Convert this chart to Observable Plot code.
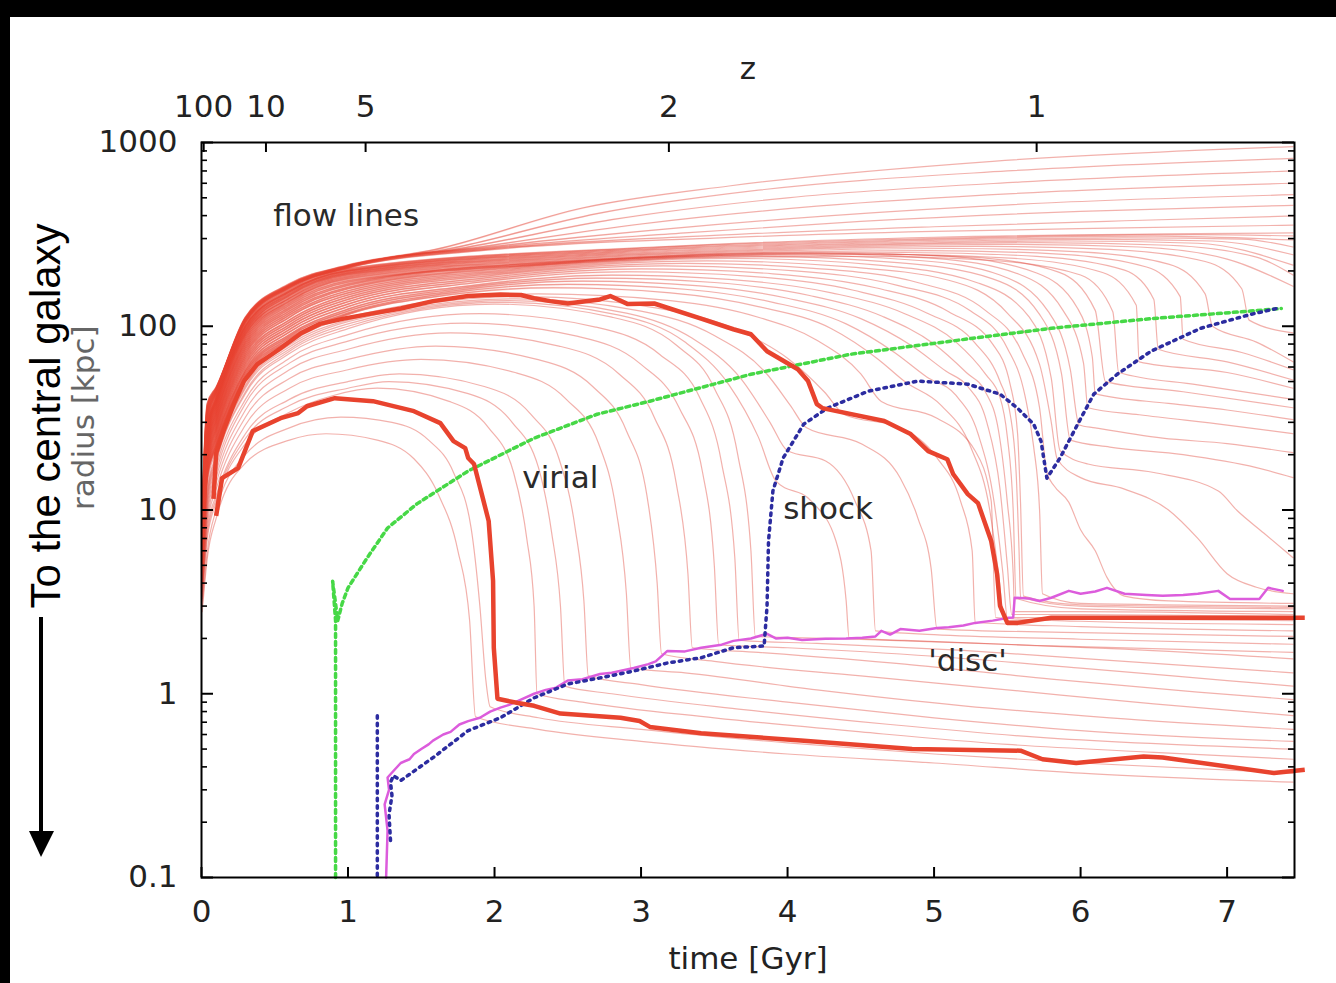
<!DOCTYPE html>
<html><head><meta charset="utf-8">
<script src="https://cdn.jsdelivr.net/npm/d3@7"></script>
<script src="https://cdn.jsdelivr.net/npm/@observablehq/plot@0.6"></script>
<style>
html,body{margin:0;padding:0;background:#000;width:1336px;height:983px;overflow:hidden;}
#panel{position:absolute;left:10px;top:17px;width:1326px;height:966px;background:#fff;}
#overlay{position:absolute;left:0;top:0;pointer-events:none;}
</style></head><body>
<div id="panel"></div>
<svg id="overlay" width="1336" height="983">
  <text transform="translate(60,416) rotate(-90)" text-anchor="middle" font-family="Liberation Sans, Arial, sans-serif" font-size="42" fill="#000">To the central galaxy</text>
  <line x1="41" y1="617" x2="41" y2="834" stroke="#000" stroke-width="4"/>
  <polygon points="29,831 54,831 41,857" fill="#000"/>
</svg>
<script>
// ---------- axis ticks / labels ----------
const timeTicks = [0, 1, 2, 3, 4, 5, 6, 7];
const radiusTicks = [0.1, 1, 10, 100, 1000];
const zLabels = ["100", "10", "5", "2", "1"];
const zTimes = [0.015, 0.44, 1.12, 3.19, 5.7];

// ---------- flow lines: flat [t, r, t, r, ...] (time Gyr, radius kpc) ----------
const innerFlow = [
  [0.005,2.8, 0.04,5.5, 0.1,9, 0.3,18, 0.6,24, 0.85,26, 1.2,24, 1.45,19, 1.62,12, 1.75,6, 1.83,2.5, 1.87,0.75, 2.3,0.64, 3,0.55, 4,0.47, 5,0.42, 6,0.37, 7.45,0.33],
  [0.005,3, 0.04,6, 0.1,10, 0.3,20, 0.6,28, 0.95,32, 1.3,30, 1.55,24, 1.72,16, 1.84,8, 1.9,3, 1.94,1.2, 1.97,0.85, 2.3,0.74, 3,0.64, 4,0.54, 5,0.47, 6,0.42, 7.45,0.37]
];
const discFlow = [
  [0.005,3.2, 0.04,7, 0.1,11, 0.3,23, 0.6,34, 0.9,42, 1.2,46, 1.69,39, 1.96,28, 2.13,16, 2.22,7, 2.27,3, 2.29,1.0, 2.6,0.9, 3.5,0.74, 4.5,0.62, 5.5,0.53, 6.5,0.48, 7.45,0.44],
  [0.005,3.3, 0.04,7.5, 0.1,11.5, 0.3,24.5, 0.6,37, 1.0,46, 1.28,50, 1.82,43, 2.12,30, 2.3,17, 2.39,7.5, 2.45,3, 2.48,1.1, 2.8,1.0, 3.7,0.82, 4.7,0.68, 5.7,0.58, 7.45,0.5],
  [0.005,3.4, 0.04,8, 0.1,12, 0.3,26, 0.6,40, 1.0,50, 1.35,55, 1.93,47, 2.25,33, 2.44,19, 2.55,8, 2.61,3.2, 2.64,1.25, 3,1.12, 4,0.9, 5,0.74, 6,0.63, 7.45,0.55],
  [0.005,3.5, 0.04,8.5, 0.1,13, 0.3,29, 0.6,46, 1.0,58, 1.5,66, 2.14,56, 2.49,40, 2.71,23, 2.83,10, 2.9,3.5, 2.93,1.38, 3.3,1.3, 4.2,1.05, 5.2,0.86, 6.2,0.74, 7.45,0.64],
  [0.005,3.6, 0.04,9, 0.1,14, 0.3,32, 0.6,52, 1.0,66, 1.6,78, 2.29,66, 2.67,47, 2.9,27, 3.04,12, 3.11,4, 3.14,1.65, 3.5,1.5, 4.5,1.25, 5.5,1.05, 6.5,0.88, 7.45,0.76],
  [0.005,3.7, 0.04,9.5, 0.1,15, 0.3,35, 0.6,58, 1.0,75, 1.7,92, 2.44,78, 2.85,55, 3.09,32, 3.24,14, 3.32,4.5, 3.35,1.78, 3.8,1.68, 4.8,1.45, 5.8,1.2, 6.8,1.02, 7.45,0.93],
  [0.005,3.8, 0.04,10, 0.1,16, 0.3,38, 0.6,63, 1.0,83, 1.8,104, 2.57,88, 3.0,62, 3.26,36, 3.42,16, 3.5,5, 3.53,1.85, 4,1.78, 5,1.6, 6,1.38, 7,1.18, 7.45,1.1],
  [0.005,3.9, 0.04,10.5, 0.1,17, 0.3,40, 0.6,67, 1.0,90, 1.9,117, 2.69,99, 3.13,70, 3.4,41, 3.55,18, 3.64,5.5, 3.67,1.95, 4.2,1.88, 5.2,1.72, 6.2,1.52, 7.45,1.3],
  [0.005,4, 0.04,11, 0.1,18, 0.3,43, 0.6,71, 1.0,97, 2.0,132, 2.8,112, 3.24,79, 3.5,46, 3.66,20, 3.75,6, 3.78,2.05, 4.3,2.0, 5.3,1.88, 6.3,1.75, 7.45,1.55]
];
const domeFlow = [
  [0.005,4.1, 0.04,11.5, 0.1,18.5, 0.3,44, 0.6,73, 1.0,100, 2.05,135, 2.85,115, 3.3,82, 3.6,48, 3.8,25, 3.92,14.4, 4.16,11.2, 4.33,6.8, 4.4,3.2, 4.42,2.02, 4.8,1.95, 5.8,1.82, 7.45,1.68],
  [0.005,4.2, 0.04,12, 0.1,19, 0.3,46, 0.6,75, 1.0,103, 2.1,138, 2.9,118, 3.35,86, 3.68,52, 3.88,30, 4.0,21, 4.26,18.5, 4.46,11.2, 4.57,6, 4.6,2.2, 5,2.1, 6,1.98, 7.45,1.86],
  [0.005,4.3, 0.04,12.5, 0.1,19.5, 0.3,47, 0.6,77, 1.0,106, 2.15,141, 3.0,121, 3.5,89, 3.85,56, 4.02,37, 4.13,28, 4.51,22.8, 4.77,14.9, 4.89,9, 4.98,4.8, 5.02,2.25, 6,2.15, 7.45,2.05],
  [0.005,4.4, 0.04,13, 0.1,20, 0.3,48, 0.6,79, 1.0,108, 2.2,145, 3.1,126, 3.65,96, 4.0,67, 4.25,44, 4.39,33, 4.77,28, 5.02,19.2, 5.18,11.2, 5.26,6, 5.28,2.45, 6,2.32, 7.45,2.2],
  [0.005,4.6, 0.04,14, 0.1,21, 0.3,50, 0.6,81, 1.0,112, 2.3,150, 3.2,138, 3.8,112, 4.2,84, 4.5,55, 4.64,39, 5.02,31.6, 5.28,21, 5.39,11.2, 5.42,2.6, 6,2.48, 7.45,2.38]
];
const haloFlow = [
  [0.005,4.8, 0.04,15, 0.1,22, 0.3,52, 0.6,84, 1.0,116, 1.6,145, 2.4,162, 3.2,152, 3.8,128, 4.3,97, 4.62,66, 4.8,50, 5.05,37, 5.25,22, 5.38,10, 5.44,4.5, 5.48,2.5, 6,2.55, 7.45,2.5],
  [0.005,4.9, 0.04,15.5, 0.1,22.5, 0.3,53.5, 0.6,86, 1.0,118, 1.65,150, 2.5,169, 3.3,159, 3.9,135, 4.4,103, 4.73,72, 4.95,53, 5.15,42, 5.3,26, 5.41,11, 5.47,4.5, 5.5,2.6, 6,2.6, 7.45,2.55],
  [0.005,5, 0.04,16, 0.1,23, 0.3,55, 0.6,88, 1.0,121, 1.7,155, 2.6,176, 3.4,166, 4.0,142, 4.5,110, 4.85,78, 5.08,57, 5.23,47, 5.36,30, 5.45,13, 5.5,5, 5.53,2.7, 6,2.7, 7.45,2.62],
  [0.005,5.1, 0.04,16.5, 0.1,23.8, 0.3,56.5, 0.6,90, 1.0,124, 1.75,160, 2.7,183, 3.5,173, 4.15,147, 4.65,113, 5.0,80, 5.22,56, 5.35,44, 5.44,27, 5.5,11, 5.54,4.5, 5.55,2.8, 6,2.8, 7.45,2.7],
  [0.005,5.2, 0.04,17, 0.1,24.5, 0.3,58, 0.6,93, 1.0,128, 1.8,165, 2.8,190, 3.6,180, 4.3,152, 4.8,117, 5.15,82, 5.35,55, 5.45,41, 5.5,25, 5.54,10, 5.56,3.3, 6,2.9, 7.45,2.8],
  [0.005,5.3, 0.04,17.5, 0.1,25.2, 0.3,60, 0.6,96, 1.0,132, 1.85,172, 2.9,198, 3.75,187, 4.45,157, 4.95,118, 5.28,81, 5.45,50, 5.52,33, 5.56,16, 5.58,6, 5.59,3.35, 6,3.0, 7.45,2.9],
  [0.005,5.4, 0.04,18, 0.1,26, 0.3,62, 0.6,99, 1.0,136, 1.9,178, 3.0,205, 3.9,193, 4.6,162, 5.1,120, 5.4,80, 5.52,48, 5.57,26, 5.59,11, 5.61,3.4, 6,3.05, 7.45,2.95],
  [0.005,5.5, 0.04,18.5, 0.1,26.8, 0.3,64, 0.6,102, 1.0,140, 1.95,184, 3.15,213, 4.05,200, 4.75,167, 5.25,121, 5.5,76, 5.62,42, 5.68,22, 5.72,10, 5.74,3.5, 6,3.1, 7.45,3.0],
  [0.005,5.6, 0.04,19, 0.1,27.5, 0.3,66, 0.6,105, 1.0,144, 2.0,190, 3.3,220, 4.2,206, 4.9,172, 5.35,122, 5.6,72, 5.72,36, 5.77,16, 5.82,13.5, 5.92,11, 6.0,7.8, 6.1,6, 6.18,4.3, 6.3,3.4, 6.6,3.2, 7.45,3.1],
  [0.005,5.7, 0.04,19.5, 0.1,28.2, 0.3,68, 0.6,108, 1.0,148, 2.05,195, 3.45,227, 4.4,211, 5.1,178, 5.5,118, 5.72,62, 5.8,30, 5.84,19, 6.0,15, 6.3,13, 6.6,10, 6.8,7, 7.0,4.5, 7.2,3.8, 7.45,3.5],
  [0.005,5.8, 0.04,20, 0.1,29, 0.3,70, 0.6,112, 1.0,152, 2.1,200, 3.6,234, 4.6,216, 5.3,172, 5.65,112, 5.8,52, 5.86,21, 6.05,17.8, 6.5,16, 6.94,12.7, 7.07,9.9, 7.25,7.5, 7.45,5.5],
  [0.005,5.9, 0.04,20.5, 0.1,29.8, 0.3,72, 0.6,115, 1.0,156, 2.15,205, 3.75,240, 4.75,222, 5.4,181, 5.72,116, 5.87,55, 5.93,24, 6.2,22, 6.7,20, 7.2,17, 7.45,15],
  [0.005,6, 0.04,21, 0.1,30.5, 0.3,74, 0.6,118, 1.0,160, 2.2,210, 3.9,245, 4.9,228, 5.45,190, 5.78,120, 5.93,58, 5.99,29, 6.1,28, 6.56,24.6, 7.0,23, 7.45,20.5],
  [0.005,6.1, 0.04,21.5, 0.1,31.2, 0.3,76, 0.6,121, 1.0,163, 2.25,214, 4.05,250, 5.0,234, 5.58,192, 5.88,122, 6.02,63, 6.05,36, 6.4,33, 7.0,29, 7.45,26],
  [0.005,6.2, 0.04,22, 0.1,32, 0.3,78, 0.6,124, 1.0,167, 2.3,218, 4.2,252, 5.1,240, 5.7,195, 5.98,125, 6.08,68, 6.1,43, 6.6,38, 7.0,35, 7.45,31],
  [0.005,6.3, 0.04,22.5, 0.1,32.8, 0.3,80, 0.6,127, 1.0,170, 2.35,222, 4.35,248, 5.25,238, 5.85,197, 6.1,122, 6.17,50, 6.7,44, 7.45,36],
  [0.005,6.4, 0.04,23, 0.1,33.5, 0.3,82, 0.6,130, 1.0,174, 2.4,218, 3.6,238, 4.5,240, 5.4,228, 6.0,190, 6.22,120, 6.26,56, 6.8,48, 7.45,40],
  [0.005,6.5, 0.04,23.5, 0.1,34.2, 0.3,84, 0.6,133, 1.0,177, 2.45,222, 3.7,243, 4.65,246, 5.55,234, 6.15,196, 6.38,130, 6.4,64, 7.0,56, 7.45,46],
  [0.005,6.6, 0.04,24, 0.1,35, 0.3,86, 0.6,136, 1.0,181, 2.5,226, 3.8,248, 4.8,252, 5.7,240, 6.3,202, 6.5,140, 6.53,75, 7.0,64, 7.45,51],
  [0.005,6.7, 0.04,24.5, 0.1,35.8, 0.3,88, 0.6,138, 1.0,184, 2.55,230, 3.9,253, 4.95,258, 5.85,247, 6.45,210, 6.68,145, 6.7,85, 7.1,72, 7.45,58],
  [0.005,6.8, 0.04,25, 0.1,36.5, 0.3,90, 0.6,141, 1.0,187, 2.6,234, 4.0,258, 5.1,265, 6.0,254, 6.6,218, 6.85,150, 6.9,100, 7.2,82, 7.45,64],
  [0.005,6.9, 0.04,25.5, 0.1,37.2, 0.3,91, 0.6,143, 1.0,190, 2.65,238, 4.1,263, 5.3,272, 6.2,262, 6.85,225, 7.1,160, 7.15,108, 7.45,92],
  [0.005,7, 0.04,26, 0.1,38, 0.3,93, 0.6,146, 1.0,192, 2.7,242, 4.2,268, 5.5,279, 6.4,270, 7.0,232, 7.45,165],
  [0.005,7.1, 0.04,26.5, 0.1,38.5, 0.3,94, 0.6,148, 1.0,194, 2.75,246, 4.3,273, 5.7,285, 6.6,276, 7.2,238, 7.45,190],
  [0.005,7.2, 0.04,27, 0.1,39, 0.3,96, 0.6,150, 1.0,196, 2.8,250, 4.4,278, 5.9,291, 6.8,283, 7.45,215],
  [0.005,7.3, 0.04,27.5, 0.1,39.5, 0.3,97, 0.6,152, 1.0,198, 2.85,254, 4.5,283, 6.1,297, 6.9,291, 7.45,245],
  [0.005,7.4, 0.04,28, 0.1,40, 0.3,99, 0.6,154, 1.0,200, 2.9,258, 4.6,288, 6.3,303, 7.1,298, 7.45,270],
  [0.005,7.5, 0.04,28.5, 0.1,40.5, 0.3,100, 0.6,155, 1.0,201, 2.95,262, 4.7,293, 6.5,309, 7.45,295],
  [0.005,7.6, 0.04,29, 0.1,41, 0.3,101, 0.6,157, 1.0,203, 3.0,266, 4.8,298, 6.8,315, 7.45,310],
  [0.005,7.8, 0.04,30, 0.1,42, 0.3,103, 0.6,160, 1.0,206, 3.1,270, 5.0,305, 7.45,322]
];
const outerFlow = [
  [0.005,8, 0.04,31, 0.1,43, 0.3,105, 0.6,162, 1.0,208, 2.0,262, 3.5,302, 5,328, 6.3,343, 7.45,355],
  [0.005,8.3, 0.04,32, 0.1,43.5, 0.3,106, 0.6,163, 1.0,209, 2.0,265, 3.5,312, 5,348, 6.3,375, 7.45,398],
  [0.005,8.6, 0.04,33, 0.1,44, 0.3,107, 0.6,164, 1.0,210, 2.0,268, 3.3,322, 4.5,372, 6,422, 7.45,455],
  [0.005,8.9, 0.04,34, 0.1,44.5, 0.3,108, 0.6,165, 1.0,211, 2.0,272, 3.2,340, 4.3,400, 5.8,470, 7.45,520],
  [0.005,9.2, 0.04,35, 0.1,45, 0.3,109, 0.6,166, 1.0,212, 1.9,270, 3.0,360, 4.2,450, 5.8,540, 7.45,600],
  [0.005,9.5, 0.04,36, 0.1,45.5, 0.3,110, 0.6,167, 1.0,213, 1.8,268, 2.8,380, 4,500, 5.6,610, 7.45,700],
  [0.005,9.8, 0.04,37, 0.1,46, 0.3,111, 0.6,168, 1.0,214, 1.7,265, 2.7,410, 3.8,550, 5.5,700, 7.45,820],
  [0.005,10, 0.04,38, 0.1,46.5, 0.3,112, 0.6,170, 1.0,215, 1.6,262, 2.6,440, 3.6,580, 5.4,790, 7.45,950]
];

// ---------- characteristic radii ----------
const virialLine = [0.915,0.1, 0.915,1.0, 0.915,2.5, 0.895,4.1, 0.93,2.5, 0.96,3.1, 1.0,3.77, 1.13,5.48, 1.27,7.98, 1.47,10.8, 1.82,16.3, 2.27,24.6, 2.70,33.2, 3.06,39.1, 3.75,54.8, 4.43,70.4, 5.11,82.9, 5.80,97.5, 6.48,110, 7.16,121, 7.37,125];
const shockEarly = [1.20,0.76, 1.20,0.1];
const shockMain = [1.29,0.159, 1.28,0.22, 1.30,0.28, 1.29,0.33, 1.31,0.358, 1.36,0.337, 1.58,0.449, 1.82,0.63, 2.04,0.74, 2.27,0.95, 2.5,1.13, 2.72,1.22, 2.95,1.33, 3.18,1.47, 3.41,1.57, 3.63,1.78, 3.84,1.82, 3.86,3.0, 3.87,6.78, 3.90,12.7, 3.97,19.2, 4.11,29.3, 4.27,35.8, 4.55,44.3, 4.89,50.3, 5.23,48.4, 5.45,42.7, 5.57,35.8, 5.68,29.3, 5.73,23.7, 5.77,14.9, 5.86,19.2, 5.98,29.3, 6.09,42.7, 6.25,54.8, 6.48,73.1, 6.82,97.5, 7.16,116, 7.34,125];
const discLine = [1.26,0.1, 1.27,0.18, 1.25,0.25, 1.28,0.3, 1.27,0.35, 1.31,0.38, 1.36,0.42, 1.42,0.44, 1.45,0.47, 1.5,0.5, 1.55,0.53, 1.58,0.556, 1.65,0.6, 1.7,0.62, 1.76,0.68, 1.82,0.71, 1.9,0.74, 1.97,0.8, 2.04,0.84, 2.1,0.87, 2.18,0.93, 2.27,1.0, 2.35,1.05, 2.42,1.08, 2.5,1.18, 2.6,1.2, 2.72,1.28, 2.8,1.3, 2.95,1.38, 3.05,1.45, 3.1,1.5, 3.18,1.71, 3.3,1.7, 3.41,1.78, 3.55,1.85, 3.63,1.94, 3.75,2.0, 3.86,2.12, 3.92,2.0, 4.0,2.02, 4.1,1.96, 4.26,1.99, 4.4,2.0, 4.51,2.02, 4.6,2.05, 4.64,2.2, 4.7,2.1, 4.77,2.25, 4.9,2.2, 5.02,2.28, 5.1,2.3, 5.2,2.35, 5.28,2.43, 5.4,2.5, 5.51,2.59, 5.54,2.6, 5.55,3.33, 5.65,3.3, 5.72,3.2, 5.80,3.33, 5.92,3.63, 6.0,3.5, 6.1,3.6, 6.18,3.77, 6.3,3.5, 6.45,3.45, 6.56,3.41, 6.7,3.45, 6.8,3.5, 6.94,3.63, 7.02,3.28, 7.22,3.28, 7.28,3.77, 7.38,3.63];

// ---------- hand-drawn highlighted trajectories ----------
const outerHighlight = [0.082,11.5, 0.10,20.4, 0.15,26.9, 0.22,37.7, 0.29,50.3, 0.38,62.1, 0.54,75.9, 0.68,91.6, 0.81,103, 0.97,110, 1.13,116, 1.36,125, 1.58,137, 1.82,146, 2.04,149, 2.18,148, 2.27,142, 2.38,137, 2.50,133, 2.72,140, 2.79,146, 2.91,132, 3.09,133, 3.41,110, 3.63,96.3, 3.75,90.5, 3.86,73.1, 4.07,58.3, 4.14,50.3, 4.20,37.7, 4.24,35.8, 4.27,35.4, 4.66,30.5, 4.84,25.9, 4.96,20.9, 5.09,18.9, 5.13,15.7, 5.23,12.2, 5.30,10.9, 5.39,6.78, 5.43,4.49, 5.45,3.01, 5.50,2.43, 5.57,2.43, 5.80,2.59, 6.14,2.59, 7.53,2.59];
const innerHighlight = [0.10,9.28, 0.14,14.9, 0.25,16.9, 0.35,26.9, 0.54,31.6, 0.66,33.7, 0.72,36.7, 0.91,40.6, 1.17,39.1, 1.45,34.5, 1.63,29.7, 1.72,23.7, 1.80,21.7, 1.82,19.2, 1.86,17.8, 1.92,11.6, 1.96,8.71, 1.99,4.11, 1.995,1.78, 2.02,0.94, 2.16,0.89, 2.27,0.86, 2.45,0.78, 2.86,0.74, 2.99,0.71, 3.06,0.66, 3.41,0.61, 4.09,0.556, 4.85,0.50, 5.59,0.49, 5.74,0.44, 5.97,0.42, 6.43,0.455, 6.56,0.45, 7.32,0.37, 7.53,0.386];

// ---------- in-plot labels ----------
const labels = [
  {t: 0.49, r: 396, s: "flow lines"},
  {t: 2.19, r: 14.9, s: "virial"},
  {t: 3.97, r: 10.1, s: "shock"},
  {t: 4.96, r: 1.51, s: "'disc'"}
];

// ---------- build tables ----------
function toRows(arr, id) {
  const rows = [];
  for (let k = 0; k < arr.length; k += 2) rows.push({t: arr[k], r: arr[k + 1], id});
  return rows;
}
const flowRows = [];
[innerFlow, discFlow, domeFlow, haloFlow, outerFlow].forEach((g, gi) =>
  g.forEach((line, li) => flowRows.push(...toRows(line, gi + "-" + li))));
// outer shells: drawn a second time with a left-to-right fading stroke (dense early band)
const bandRows = flowRows.filter(d => d.id[0] === "3" || d.id[0] === "4");

const virialRows = toRows(virialLine, "v");
const shockRows = [...toRows(shockEarly, "s1"), ...toRows(shockMain, "s2")];
const discRows = toRows(discLine, "d");
const highlightRows = [...toRows(outerHighlight, "A"), ...toRows(innerHighlight, "B")];

const minorR = [];
for (const dec of [0.1, 1, 10, 100]) for (let k = 2; k <= 9; k++) minorR.push(+(dec * k).toPrecision(3));

const W = 1326, H = 966, mL = 191, mT = 125, mR = 42, mB = 106;
const plotW = W - mL - mR, plotH = H - mT - mB;
const zMap = new Map(zTimes.map((t, i) => [t, zLabels[i]]));
const font = "DejaVu Sans, Liberation Sans, sans-serif";
const flowStyle = {x: "t", y: "r", z: "id", curve: "monotone-x"};

const chart = Plot.plot({
  width: W, height: H,
  marginLeft: mL, marginTop: mT, marginRight: mR, marginBottom: mB,
  style: {fontFamily: font, fontSize: "31px", background: "transparent", color: "#222"},
  x: {domain: [0, 7.46]},
  y: {type: "log", domain: [0.1, 1000]},
  marks: [
    Plot.line(flowRows, {...flowStyle, stroke: "#e0463a", strokeOpacity: 0.42, strokeWidth: 1.2}),
    Plot.line(bandRows, {...flowStyle, stroke: "url(#bandFade)", strokeWidth: 1.8}),
    Plot.line(virialRows, {x: "t", y: "r", stroke: "#46d846", strokeWidth: 3.5, strokeDasharray: "4,4"}),
    Plot.line(discRows, {x: "t", y: "r", stroke: "#dc5cdc", strokeWidth: 2.5}),
    Plot.line(shockRows, {x: "t", y: "r", z: "id", stroke: "#2c2ca0", strokeWidth: 3.5, strokeDasharray: "2.5,5"}),
    Plot.line(highlightRows, {x: "t", y: "r", z: "id", stroke: "#e8432e", strokeWidth: 4.5, strokeLinejoin: "round", strokeLinecap: "butt"}),
    Plot.frame({stroke: "#000", strokeWidth: 2}),
    Plot.tickY(radiusTicks, {y: d => d, insetRight: plotW - 12, stroke: "#000", strokeWidth: 2}),
    Plot.tickY(radiusTicks, {y: d => d, insetLeft: plotW - 12, stroke: "#000", strokeWidth: 2}),
    Plot.tickY(minorR, {y: d => d, insetRight: plotW - 6, stroke: "#000", strokeWidth: 1.6}),
    Plot.tickY(minorR, {y: d => d, insetLeft: plotW - 6, stroke: "#000", strokeWidth: 1.6}),
    Plot.tickX(timeTicks, {x: d => d, insetTop: plotH - 10, stroke: "#000", strokeWidth: 2}),
    Plot.tickX(zTimes, {x: d => d, insetBottom: plotH - 10, stroke: "#000", strokeWidth: 2}),
    Plot.axisX(timeTicks, {anchor: "bottom", tickSize: 0, tickPadding: 22, label: null, fontSize: 31, tickFormat: d => String(d)}),
    Plot.axisX(zTimes, {anchor: "top", tickSize: 0, tickPadding: 26, label: null, fontSize: 31, tickFormat: d => zMap.get(d)}),
    Plot.axisY(radiusTicks, {anchor: "left", tickSize: 0, tickPadding: 24, label: null, fontSize: 31, tickFormat: d => String(d)}),
    Plot.text(labels, {x: "t", y: "r", text: "s", textAnchor: "start", fontSize: 31, fill: "#2a2a2a"}),
    Plot.text(["time [Gyr]"], {frameAnchor: "bottom", dy: 91, fontSize: 31, fill: "#222"}),
    Plot.text(["z"], {frameAnchor: "top", dy: -86, fontSize: 31, fill: "#222"}),
    Plot.text(["radius [kpc]"], {frameAnchor: "left", dx: -117, rotate: -90, fontSize: 31, fill: "#666"})
  ]
});
// gradient used by the band overlay (fades out with time)
const ns = "http://www.w3.org/2000/svg";
const defs = document.createElementNS(ns, "defs");
defs.innerHTML = `<linearGradient id="bandFade" gradientUnits="userSpaceOnUse" x1="191" y1="0" x2="720" y2="0">
  <stop offset="0" stop-color="#e8402e" stop-opacity="0.6"/>
  <stop offset="0.28" stop-color="#e8402e" stop-opacity="0.45"/>
  <stop offset="0.55" stop-color="#e8402e" stop-opacity="0.25"/>
  <stop offset="0.82" stop-color="#e8402e" stop-opacity="0.08"/>
  <stop offset="1" stop-color="#e8402e" stop-opacity="0"/>
</linearGradient>`;
chart.insertBefore(defs, chart.firstChild);
document.getElementById("panel").appendChild(chart);
</script>
</body></html>
